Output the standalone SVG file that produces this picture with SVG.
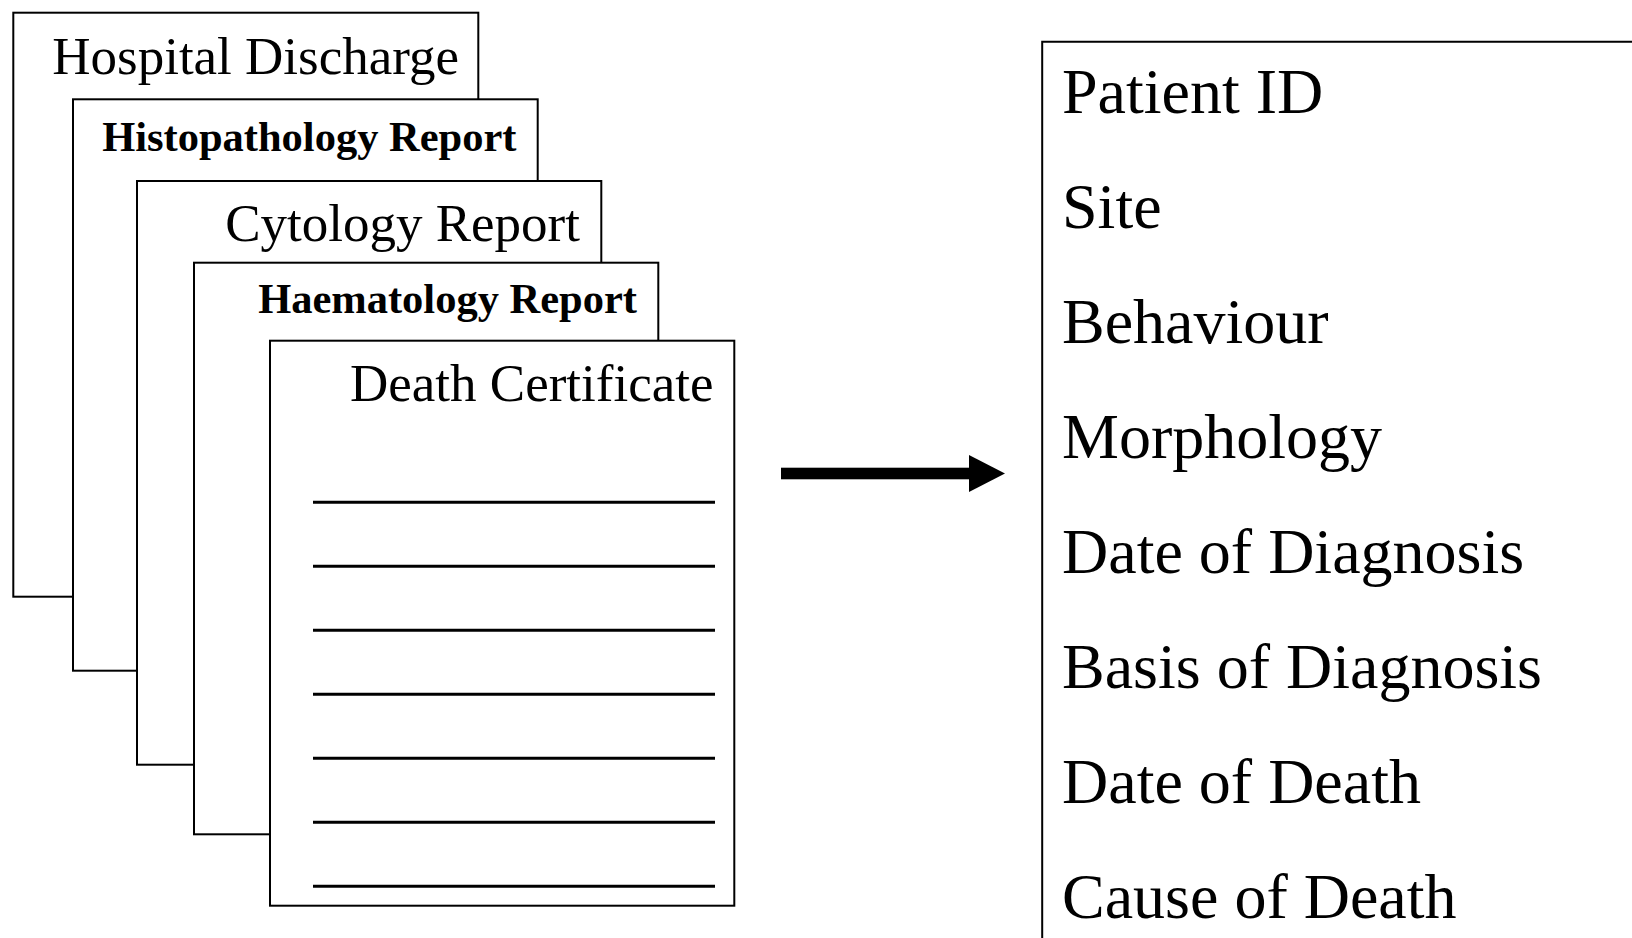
<svg xmlns="http://www.w3.org/2000/svg" width="1632" height="938" viewBox="0 0 1632 938">
  <style>
    .doc { fill: #ffffff; stroke: #000000; stroke-width: 2; }
    .title { font-family: "Liberation Serif", "Times New Roman", serif; font-size: 53px; fill: #000000; text-anchor: end; }
    .title-bold { font-family: "Liberation Serif", "Times New Roman", serif; font-size: 42.5px; font-weight: bold; fill: #000000; text-anchor: end; }
    .rule { stroke: #000000; stroke-width: 3; }
    .field { font-family: "Liberation Serif", "Times New Roman", serif; font-size: 64px; fill: #000000; }
  </style>

  <rect width="1632" height="938" fill="#ffffff"/>

  <!-- stacked source documents, back to front -->
  <g id="hospital-discharge">
    <rect class="doc" x="13.3" y="12.7" width="465" height="584"/>
    <text class="title" x="459" y="74" font-size="54.5">Hospital Discharge</text>
  </g>

  <g id="histopathology-report">
    <rect class="doc" x="73" y="99.3" width="464.7" height="571.4"/>
    <text class="title-bold" x="516.5" y="150.5">Histopathology Report</text>
  </g>

  <g id="cytology-report">
    <rect class="doc" x="137" y="181" width="464.3" height="583.7"/>
    <text class="title" x="580" y="241">Cytology Report</text>
  </g>

  <g id="haematology-report">
    <rect class="doc" x="194" y="262.7" width="464.3" height="571.6"/>
    <text class="title-bold" x="637" y="313">Haematology Report</text>
  </g>

  <g id="death-certificate">
    <rect class="doc" x="270" y="340.7" width="464.3" height="565"/>
    <text class="title" x="713.5" y="401">Death Certificate</text>
    <g id="form-lines">
      <line class="rule" x1="313" y1="502.3" x2="715" y2="502.3"/>
      <line class="rule" x1="313" y1="566.3" x2="715" y2="566.3"/>
      <line class="rule" x1="313" y1="630.3" x2="715" y2="630.3"/>
      <line class="rule" x1="313" y1="694.3" x2="715" y2="694.3"/>
      <line class="rule" x1="313" y1="758.3" x2="715" y2="758.3"/>
      <line class="rule" x1="313" y1="822.3" x2="715" y2="822.3"/>
      <line class="rule" x1="313" y1="886.3" x2="715" y2="886.3"/>
    </g>
  </g>

  <!-- flow from documents to the registry record -->
  <g id="connectors">
    <rect x="781" y="467.7" width="189" height="11.6" fill="#000000"/>
    <polygon points="969,455 1005,473.5 969,492" fill="#000000"/>
  </g>

  <!-- registry record fields -->
  <g id="registry-record">
    <path d="M 1633 41.7 L 1042.2 41.7 L 1042.2 940" fill="#ffffff" stroke="#000000" stroke-width="2"/>
    <text class="field" x="1062" y="112.5">Patient ID</text>
    <text class="field" x="1062" y="227.6">Site</text>
    <text class="field" x="1062" y="342.7">Behaviour</text>
    <text class="field" x="1062" y="457.8">Morphology</text>
    <text class="field" x="1062" y="572.9">Date of Diagnosis</text>
    <text class="field" x="1062" y="688">Basis of Diagnosis</text>
    <text class="field" x="1062" y="803.1">Date of Death</text>
    <text class="field" x="1062" y="918.2">Cause of Death</text>
  </g>
</svg>
